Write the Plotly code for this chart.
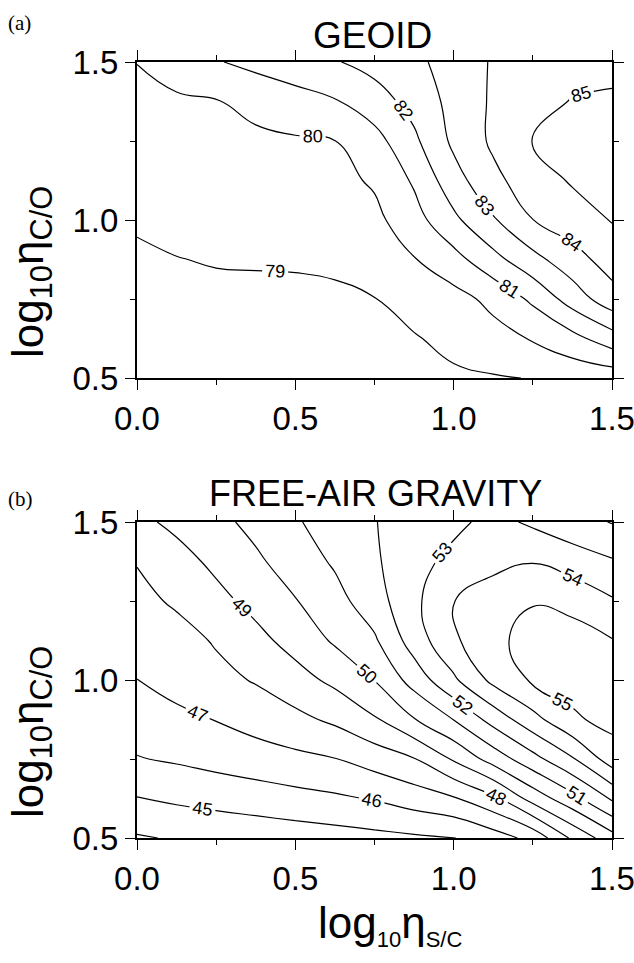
import plotly.graph_objects as go

# grid coordinates (log10 eta_S/C along x, log10 eta_C/O along y)
x_vals = [0.0, 0.125, 0.25, 0.375, 0.5, 0.625, 0.75, 0.875, 1.0, 1.125, 1.25, 1.375, 1.5]
y_rows = [1.5, 1.375, 1.25, 1.125, 1.0, 0.875, 0.75, 0.625, 0.5]  # top row first

# (a) GEOID values, rows from y=1.5 down to y=0.5
geoid = [
    [80.02, 80.47, 80.93, 81.28, 81.61, 81.93, 82.35, 82.79, 83.38, 84.10, 84.40, 84.60, 84.70],
    [79.70, 79.85, 79.95, 80.26, 80.59, 80.92, 81.55, 82.36, 83.31, 84.14, 84.65, 85.05, 85.15],
    [79.50, 79.69, 79.76, 79.82, 79.90, 79.99, 80.64, 81.80, 83.20, 84.17, 85.02, 85.25, 85.30],
    [79.32, 79.46, 79.52, 79.57, 79.63, 79.72, 80.12, 81.13, 82.60, 83.75, 84.53, 85.10, 85.25],
    [79.10, 79.22, 79.29, 79.32, 79.36, 79.43, 79.75, 80.61, 81.78, 82.90, 83.99, 84.53, 85.05],
    [78.87, 78.98, 79.05, 79.07, 79.09, 79.15, 79.37, 79.95, 80.65, 81.68, 82.69, 83.60, 84.45],
    [78.65, 78.75, 78.82, 78.82, 78.82, 78.86, 78.98, 79.38, 79.65, 80.26, 81.19, 82.45, 83.60],
    [78.55, 78.60, 78.63, 78.65, 78.68, 78.72, 78.80, 78.93, 79.26, 79.65, 80.08, 80.69, 81.55],
    [78.50, 78.52, 78.55, 78.58, 78.60, 78.65, 78.70, 78.77, 78.85, 78.93, 79.03, 79.30, 79.40],
]

# (b) FREE-AIR GRAVITY values, rows from y=1.5 down to y=0.5
gravity = [
    [48.75, 49.24, 49.73, 50.28, 50.90, 51.44, 51.97, 52.37, 52.76, 53.30, 52.83, 52.39, 51.95],
    [48.05, 48.62, 49.23, 49.83, 50.47, 51.13, 51.86, 52.66, 53.28, 53.70, 53.95, 53.50, 53.10],
    [47.70, 48.15, 48.70, 49.31, 49.95, 50.65, 51.57, 52.76, 53.98, 54.55, 54.95, 54.75, 54.10],
    [47.35, 47.60, 48.10, 48.70, 49.37, 50.13, 50.86, 52.47, 53.83, 54.80, 55.30, 55.35, 55.05],
    [46.99, 47.35, 47.70, 48.08, 48.62, 49.23, 50.02, 51.40, 52.83, 54.26, 55.15, 55.35, 55.40],
    [46.47, 46.77, 47.03, 47.39, 47.74, 48.19, 48.88, 49.95, 51.02, 52.37, 53.66, 54.85, 55.30],
    [45.95, 46.12, 46.33, 46.54, 46.76, 46.97, 47.44, 47.95, 49.12, 50.42, 51.65, 52.90, 54.50],
    [44.96, 45.17, 45.35, 45.51, 45.68, 45.85, 46.07, 46.48, 46.90, 47.76, 49.39, 50.67, 52.15],
    [43.90, 44.09, 44.21, 44.34, 44.47, 44.59, 44.72, 44.85, 44.97, 45.53, 46.30, 48.18, 49.60],
]

geoid_levels = (79, 85, 1)
gravity_levels = (44, 55, 1)

x_ticks = [0.0, 0.5, 1.0, 1.5]
x_ticktext = ["0.0", "0.5", "1.0", "1.5"]
y_ticks = [0.5, 1.0, 1.5]
y_ticktext = ["0.5", "1.0", "1.5"]

SANS = "Liberation Sans, Arial, Helvetica, sans-serif"
SERIF = "Liberation Serif, Times New Roman, serif"
W, H = 634, 963


def contour(z, levels, xa, ya):
    return go.Contour(
        x=x_vals,
        y=y_rows[::-1],
        z=z[::-1],
        xaxis=xa,
        yaxis=ya,
        showscale=False,
        contours=dict(
            coloring="none",
            start=levels[0],
            end=levels[1],
            size=levels[2],
            showlabels=True,
            labelfont=dict(family=SANS, size=18, color="black"),
        ),
        line=dict(color="black", width=1.2, smoothing=1.3),
        hoverinfo="skip",
    )


fig = go.Figure()
fig.add_trace(contour(geoid, geoid_levels, "x", "y"))
fig.add_trace(contour(gravity, gravity_levels, "x2", "y2"))

xdom = [137 / W, 612 / W]
top_dom = [1 - 378 / H, 1 - 62 / H]
bot_dom = [1 - 838 / H, 1 - 522 / H]

axis_common = dict(
    automargin=False,
    showline=True,
    linewidth=2,
    linecolor="black",
    mirror="allticks",
    ticks="outside",
    ticklen=10,
    tickwidth=1,
    tickcolor="black",
    showgrid=False,
    zeroline=False,
    ticklabeloverflow="allow",
    tickfont=dict(family=SANS, size=33, color="black"),
    minor=dict(dtick=0.25, ticks="outside", ticklen=5, tickwidth=1, tickcolor="black", showgrid=False),
)

fig.update_layout(
    width=W,
    height=H,
    autosize=False,
    margin=dict(l=0, r=0, t=0, b=0, pad=0, autoexpand=False),
    paper_bgcolor="white",
    plot_bgcolor="white",
    showlegend=False,
    xaxis=dict(domain=xdom, anchor="y", range=[0, 1.5], tickmode="array",
               tickvals=x_ticks, ticktext=x_ticktext, **axis_common),
    yaxis=dict(domain=top_dom, anchor="x", range=[0.5, 1.5], tickmode="array",
               tickvals=y_ticks, ticktext=y_ticktext, **axis_common),
    xaxis2=dict(domain=xdom, anchor="y2", range=[0, 1.5], tickmode="array",
                tickvals=x_ticks, ticktext=x_ticktext, **axis_common),
    yaxis2=dict(domain=bot_dom, anchor="x2", range=[0.5, 1.5], tickmode="array",
                tickvals=y_ticks, ticktext=y_ticktext, **axis_common),
)

ann = []
ann.append(dict(text="GEOID", x=372 / W, y=1 - 35 / H, xref="paper", yref="paper",
                showarrow=False, xanchor="center", yanchor="middle",
                font=dict(family=SANS, size=37, color="black")))
ann.append(dict(text="FREE-AIR GRAVITY", x=375 / W, y=1 - 493 / H, xref="paper", yref="paper",
                showarrow=False, xanchor="center", yanchor="middle",
                font=dict(family=SANS, size=36, color="black")))
ann.append(dict(text="(a)", x=6 / W, y=1 - 9 / H, xref="paper", yref="paper",
                showarrow=False, xanchor="left", yanchor="top",
                font=dict(family=SERIF, size=21, color="black")))
ann.append(dict(text="(b)", x=6 / W, y=1 - 485 / H, xref="paper", yref="paper",
                showarrow=False, xanchor="left", yanchor="top",
                font=dict(family=SERIF, size=21, color="black")))
ytitle = "log<sub>10</sub>η<sub>C/O</sub>"
for yc in (272, 732):
    ann.append(dict(text=ytitle, x=31 / W, y=1 - yc / H, xref="paper", yref="paper",
                    showarrow=False, xanchor="center", yanchor="middle", textangle=-90,
                    font=dict(family=SANS, size=44, color="black")))
xtitle = ("log<sub><span style='font-size:22px'>10</span></sub>η"
          "<sub><span style='font-size:22px'>S/C</span></sub>")
ann.append(dict(text=xtitle, x=390 / W, y=1 - 925 / H,
                xref="paper", yref="paper", showarrow=False, xanchor="center",
                yanchor="middle", font=dict(family=SANS, size=44, color="black")))
fig.update_layout(annotations=ann)

fig.write_html("out.html")
